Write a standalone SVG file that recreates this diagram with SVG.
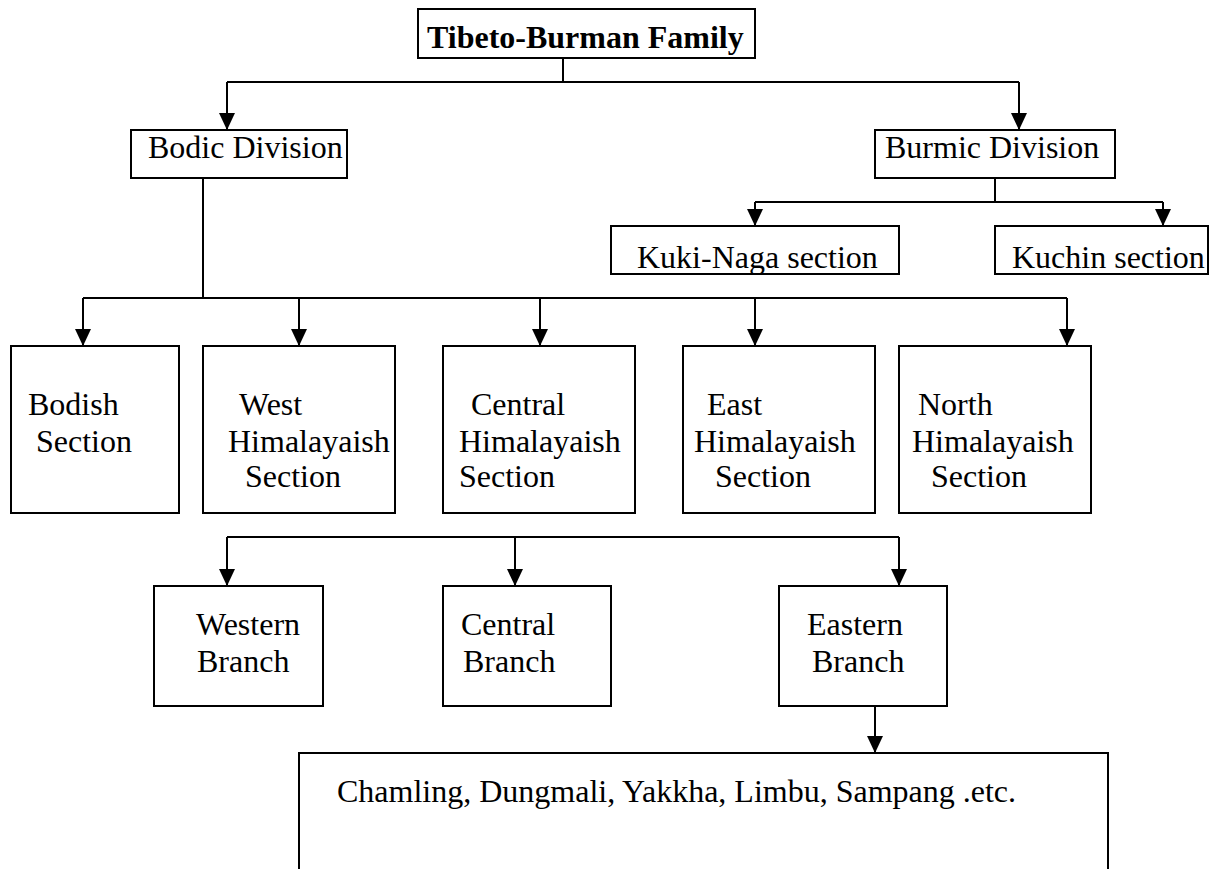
<svg xmlns="http://www.w3.org/2000/svg" width="1211" height="869" viewBox="0 0 1211 869">
<style>
.box{fill:#fff;stroke:#000;stroke-width:2}
.t{font-family:"Liberation Serif","Times New Roman",serif;font-size:32px;fill:#000}
.b{font-weight:bold}
.c{fill:none;stroke:#000;stroke-width:2}
</style>
<defs>
<marker id="ah" viewBox="0 0 17 16" refX="17" refY="8" markerWidth="17" markerHeight="16" markerUnits="userSpaceOnUse" orient="auto">
<path d="M0,0 L17,8 L0,16 z" fill="#000"/>
</marker>
</defs>
<rect width="1211" height="869" fill="#fff"/>
<g id="connectors">
<path class="c" d="M563,58 V82"/>
<path class="c" d="M227,82 H1019"/>
<path class="c" d="M227,82 V130" marker-end="url(#ah)"/>
<path class="c" d="M1019,82 V130" marker-end="url(#ah)"/>
<path class="c" d="M995,178 V202"/>
<path class="c" d="M755,202 H1163"/>
<path class="c" d="M755,202 V226" marker-end="url(#ah)"/>
<path class="c" d="M1163,202 V226" marker-end="url(#ah)"/>
<path class="c" d="M203,178 V298"/>
<path class="c" d="M83,298 H1067"/>
<path class="c" d="M83,298 V346" marker-end="url(#ah)"/>
<path class="c" d="M299,298 V346" marker-end="url(#ah)"/>
<path class="c" d="M540,298 V346" marker-end="url(#ah)"/>
<path class="c" d="M755,298 V346" marker-end="url(#ah)"/>
<path class="c" d="M1067,298 V346" marker-end="url(#ah)"/>
<path class="c" d="M227,537 H899"/>
<path class="c" d="M227,537 V586" marker-end="url(#ah)"/>
<path class="c" d="M515,537 V586" marker-end="url(#ah)"/>
<path class="c" d="M899,537 V586" marker-end="url(#ah)"/>
<path class="c" d="M875,706 V753" marker-end="url(#ah)"/>
</g>
<g id="n-family">
<rect class="box" x="418" y="9" width="337" height="49"/>
<text class="t b" x="427" y="48">Tibeto-Burman Family</text>
</g>
<g id="n-bodic">
<rect class="box" x="131" y="130" width="216" height="48"/>
<text class="t" x="148" y="158">Bodic Division</text>
</g>
<g id="n-burmic">
<rect class="box" x="875" y="130" width="240" height="48"/>
<text class="t" x="885" y="158">Burmic Division</text>
</g>
<g id="n-kukinaga">
<rect class="box" x="611" y="226" width="288" height="48"/>
<text class="t" x="637" y="268">Kuki-Naga section</text>
</g>
<g id="n-kuchin">
<rect class="box" x="995" y="226" width="213" height="48"/>
<text class="t" x="1012" y="268">Kuchin section</text>
</g>
<g id="n-bodish">
<rect class="box" x="11" y="346" width="168" height="167"/>
<text class="t" x="28" y="415">Bodish</text>
<text class="t" x="36" y="452">Section</text>
</g>
<g id="n-west">
<rect class="box" x="203" y="346" width="192" height="167"/>
<text class="t" x="239" y="415">West</text>
<text class="t" x="228" y="452">Himalayaish</text>
<text class="t" x="245" y="487">Section</text>
</g>
<g id="n-central">
<rect class="box" x="443" y="346" width="192" height="167"/>
<text class="t" x="471" y="415">Central</text>
<text class="t" x="459" y="452">Himalayaish</text>
<text class="t" x="459" y="487">Section</text>
</g>
<g id="n-east">
<rect class="box" x="683" y="346" width="192" height="167"/>
<text class="t" x="707" y="415">East</text>
<text class="t" x="694" y="452">Himalayaish</text>
<text class="t" x="715" y="487">Section</text>
</g>
<g id="n-north">
<rect class="box" x="899" y="346" width="192" height="167"/>
<text class="t" x="918" y="415">North</text>
<text class="t" x="912" y="452">Himalayaish</text>
<text class="t" x="931" y="487">Section</text>
</g>
<g id="n-western">
<rect class="box" x="154" y="586" width="169" height="120"/>
<text class="t" x="196" y="635">Western</text>
<text class="t" x="197" y="672">Branch</text>
</g>
<g id="n-centralbranch">
<rect class="box" x="443" y="586" width="168" height="120"/>
<text class="t" x="461" y="635">Central</text>
<text class="t" x="463" y="672">Branch</text>
</g>
<g id="n-eastern">
<rect class="box" x="779" y="586" width="168" height="120"/>
<text class="t" x="807" y="635">Eastern</text>
<text class="t" x="812" y="672">Branch</text>
</g>
<g id="n-languages">
<path class="c" d="M299,880 V753 H1108 V880"/>
<text class="t" x="337" y="802">Chamling, Dungmali, Yakkha, Limbu, Sampang .etc.</text>
</g>
</svg>
